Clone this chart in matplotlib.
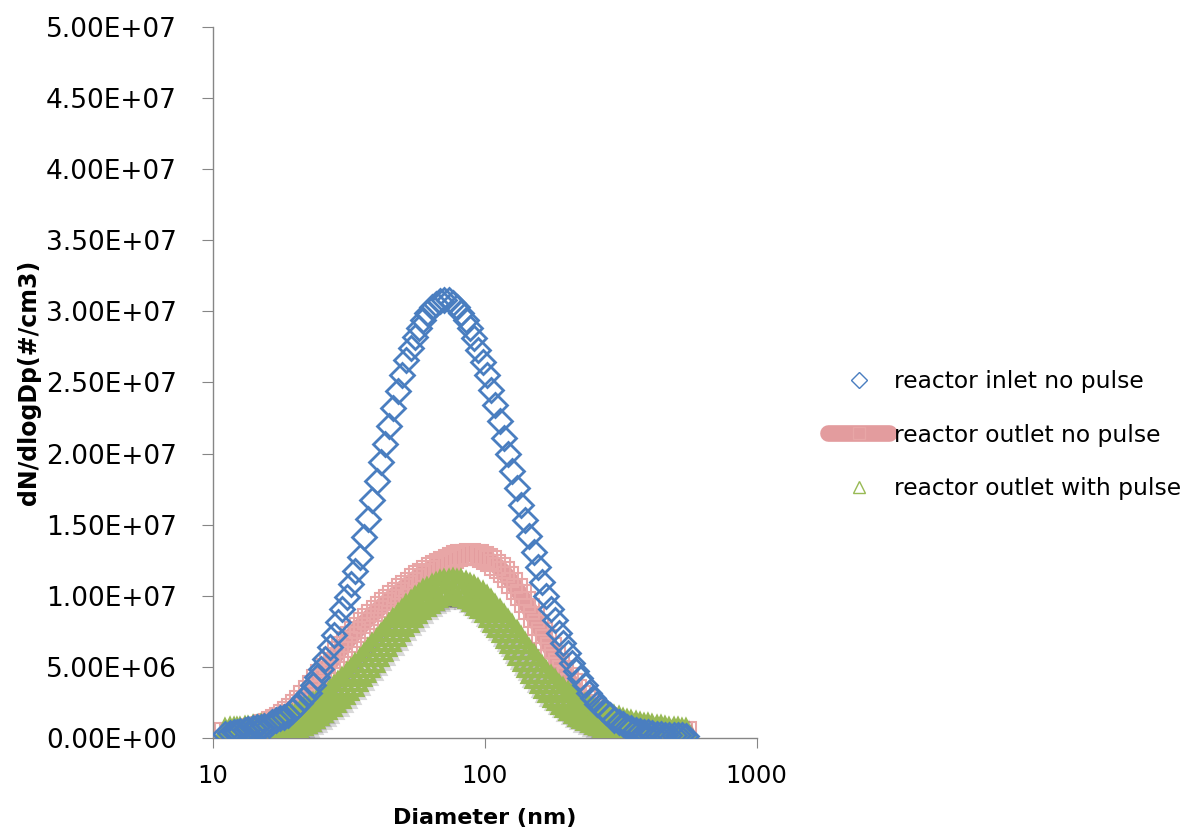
import numpy as np
import matplotlib.pyplot as plt
import matplotlib.patheffects as pe
from matplotlib.ticker import FuncFormatter, FixedLocator, NullLocator

# particle diameters (nm), SMPS channels
diameter = [11.1, 11.5, 11.9, 12.3, 12.6, 13.1, 13.5, 14.0, 14.5, 15.0,
            15.4, 16.0, 16.5, 17.1, 17.7, 18.3, 18.8, 19.5, 20.2, 20.9,
            21.7, 22.5, 23.3, 24.1, 24.9, 25.9, 26.9, 27.9, 28.9, 29.9,
            31.1, 32.2, 33.4, 34.6, 35.9, 37.2, 38.5, 40.0, 41.4, 42.9,
            44.5, 46.1, 47.8, 49.6, 51.4, 53.3, 55.2, 57.3, 59.4, 61.5,
            63.8, 66.1, 68.5, 71.0, 73.7, 76.4, 79.1, 82.0, 85.1, 88.2,
            91.4, 94.7, 98.2, 101.8, 105.5, 109.4, 113.4, 117.6, 121.9, 126.3,
            131.0, 135.8, 140.7, 145.9, 151.2, 156.8, 162.5, 168.5, 174.7, 181.1,
            187.7, 194.6, 201.7, 209.1, 216.7, 224.7, 232.9, 241.4, 250.3, 259.5,
            269.0, 278.8, 289.0, 299.6, 310.6, 322.0, 333.8, 346.0, 358.7, 371.8,
            385.4, 399.5, 414.2, 429.4, 445.1, 461.4, 478.3, 495.8, 514.0, 532.8,
            552.3]

# dN/dlogDp in millions #/cm3
inlet_no_pulse = [0.3, 0.35, 0.4, 0.45, 0.5, 0.55, 0.62, 0.7, 0.75, 0.8,
                  0.85, 0.95, 1.1, 1.25, 1.4, 1.5, 1.65, 1.9, 2.18, 2.48,
                  2.8, 3.2, 3.73, 4.27, 4.86, 5.58, 6.38, 7.24, 8.14, 9.04,
                  9.94, 10.84, 11.74, 12.7, 14.1, 15.4, 16.7, 18.06, 19.4, 20.7,
                  21.9, 23.2, 24.4, 25.5, 26.6, 27.4, 28.2, 28.8, 29.4, 29.9,
                  30.3, 30.5, 30.7, 30.8, 30.8, 30.6, 30.3, 29.9, 29.4, 28.8,
                  28.1, 27.3, 26.4, 25.5, 24.5, 23.4, 22.3, 21.1, 20.0, 18.8,
                  17.6, 16.4, 15.3, 14.2, 13.1, 12.0, 11.0, 10.0, 9.1, 8.3,
                  7.4, 6.7, 6.0, 5.3, 4.7, 4.2, 3.7, 3.2, 2.8, 2.4,
                  2.1, 1.8, 1.6, 1.3, 1.1, 1.0, 0.8, 0.7, 0.6, 0.5,
                  0.45, 0.4, 0.35, 0.3, 0.3, 0.25, 0.25, 0.2, 0.2, 0.2,
                  0.15]

outlet_no_pulse = [0.35, 0.37, 0.4, 0.43, 0.46, 0.5, 0.55, 0.61, 0.68, 0.78,
                   0.9, 1.0, 1.12, 1.26, 1.42, 1.6, 1.82, 2.06, 2.33, 2.62,
                   2.95, 3.3, 3.67, 4.05, 4.45, 4.85, 5.25, 5.65, 6.05, 6.42,
                   6.78, 7.12, 7.45, 7.77, 8.08, 8.38, 8.66, 8.93, 9.2, 9.46,
                   9.72, 9.97, 10.22, 10.46, 10.7, 10.93, 11.15, 11.36, 11.56, 11.75,
                   11.93, 12.1, 12.26, 12.41, 12.55, 12.67, 12.77, 12.85, 12.9, 12.92,
                   12.9, 12.84, 12.74, 12.6, 12.42, 12.2, 11.94, 11.64, 11.3, 10.92,
                   10.5, 10.05, 9.57, 9.06, 8.53, 7.98, 7.42, 6.86, 6.3, 5.75,
                   5.22, 4.71, 4.23, 3.78, 3.36, 2.98, 2.63, 2.32, 2.04, 1.8,
                   1.59, 1.41, 1.25, 1.12, 1.0, 0.9, 0.82, 0.75, 0.69, 0.64,
                   0.6, 0.56, 0.53, 0.5, 0.48, 0.46, 0.44, 0.42, 0.41, 0.4,
                   0.4]

outlet_with_pulse = [0.2, 0.22, 0.24, 0.26, 0.28, 0.3, 0.33, 0.36, 0.4, 0.43,
                     0.47, 0.54, 0.62, 0.7, 0.8, 0.91, 1.02, 1.15, 1.29, 1.45,
                     1.62, 1.8, 1.99, 2.2, 2.43, 2.67, 2.92, 3.19, 3.47, 3.77,
                     4.08, 4.4, 4.73, 5.07, 5.42, 5.77, 6.13, 6.49, 6.85, 7.21,
                     7.56, 7.91, 8.24, 8.57, 8.88, 9.17, 9.44, 9.69, 9.92, 10.12,
                     10.29, 10.44, 10.55, 10.64, 10.68, 10.7, 10.68, 10.62, 10.52, 10.39,
                     10.22, 10.02, 9.78, 9.51, 9.22, 8.9, 8.57, 8.21, 7.84, 7.46,
                     7.08, 6.65, 6.2, 5.8, 5.4, 4.95, 4.6, 4.25, 3.9, 3.6,
                     3.3, 3.05, 2.8, 2.55, 2.35, 2.15, 1.95, 1.8, 1.65, 1.5,
                     1.4, 1.3, 1.2, 1.1, 1.0, 0.9, 0.82, 0.75, 0.68, 0.62,
                     0.56, 0.5, 0.45, 0.4, 0.36, 0.32, 0.28, 0.25, 0.22, 0.2,
                     0.18]

series_names = ["reactor inlet no pulse", "reactor outlet no pulse",
                "reactor outlet with pulse"]

x_ticks = [10, 100, 1000]
y_ticks = np.arange(0, 5.5e7, 5e6)

plt.rcParams['font.family'] = 'DejaVu Sans'

fig = plt.figure(figsize=(11.97, 8.34), dpi=100)
ax = fig.add_axes([0.178, 0.115, 0.454, 0.853])

d = np.array(diameter)
scale = 1e6

pink, = ax.plot(d, np.array(outlet_no_pulse) * scale, color='#E39C9E', lw=12,
                solid_capstyle='round',
                marker='s', ms=15, mfc='none', mec='#E8A6A6', mew=1.5,
                label=series_names[1], zorder=2)
green, = ax.plot(d, np.array(outlet_with_pulse) * scale, ls='none',
                 marker='^', ms=21, mfc='none', mec='#98BA55', mew=3,
                 label=series_names[2], zorder=3)
green.set_path_effects([pe.SimpleLineShadow(offset=(1.5, -2.5),
                                            shadow_color='k', alpha=0.15),
                        pe.Normal()])
blue, = ax.plot(d, np.array(inlet_no_pulse) * scale, ls='none',
                marker='D', ms=12.5, mfc='none', mec='#4A7EC0', mew=2,
                label=series_names[0], zorder=4)

ax.set_xscale('log')
ax.set_xlim(10, 1000)
ax.set_ylim(0, 5e7)
ax.xaxis.set_major_locator(FixedLocator(x_ticks))
ax.xaxis.set_minor_locator(NullLocator())
ax.xaxis.set_major_formatter(FuncFormatter(lambda v, p: f"{v:g}"))
ax.set_yticks(y_ticks)
ax.yaxis.set_major_formatter(FuncFormatter(lambda v, p: f"{v:.2E}"))

for s in ['top', 'right']:
    ax.spines[s].set_visible(False)
for s in ['left', 'bottom']:
    ax.spines[s].set_color('#868686')
    ax.spines[s].set_linewidth(1)

ax.tick_params(axis='y', direction='out', length=8, color='#868686',
               labelsize=19, pad=18)
ax.tick_params(axis='x', direction='out', length=7, color='#868686',
               labelsize=17.5, pad=12)

ax.set_xlabel("Diameter (nm)", fontsize=16, fontweight='bold', labelpad=14)
ax.set_ylabel("dN/dlogDp(#/cm3)", fontsize=17, fontweight='bold', labelpad=4)

leg = ax.legend(handles=[blue, pink, green], loc='upper left',
                bbox_to_anchor=(0.692, 0.556), bbox_transform=fig.transFigure,
                frameon=False, fontsize=16.8, handlelength=2.6,
                handletextpad=0.2, labelspacing=1.3, borderpad=0,
                borderaxespad=0)
for h, s, w in zip(leg.legend_handles, [8, 9, 9], [1, 1, 8]):
    h.set_markersize(s)
    h.set_markeredgewidth(1)
    h.set_path_effects([])
    if w > 1:
        h.set_linewidth(w)

fig.savefig('out.png', dpi=100)
